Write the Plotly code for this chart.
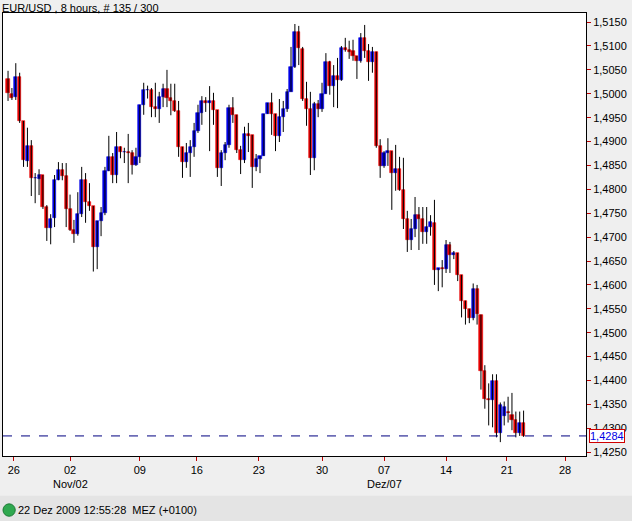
import plotly.graph_objects as go

# EUR/USD 8-hour candles
opens = [1.5031, 1.5000, 1.4994, 1.5035, 1.4943, 1.4859, 1.4891, 1.4824, 1.4821, 1.4830,
         1.4763, 1.4719, 1.4740, 1.4819, 1.4840, 1.4828, 1.4759, 1.4715, 1.4707, 1.4749,
         1.4820, 1.4774, 1.4765, 1.4679, 1.4734, 1.4750, 1.4838, 1.4868, 1.4830, 1.4889,
         1.4878, 1.4878, 1.4876, 1.4850, 1.4868, 1.4977, 1.5008, 1.5008, 1.4972, 1.4968,
         1.4993, 1.5010, 1.4991, 1.4985, 1.4964, 1.4889, 1.4857, 1.4876, 1.4889, 1.4922,
         1.4960, 1.4985, 1.4981, 1.4985, 1.4966, 1.4845, 1.4876, 1.4893, 1.4970, 1.4956,
         1.4882, 1.4861, 1.4916, 1.4914, 1.4847, 1.4863, 1.4870, 1.4958, 1.4981, 1.4958,
         1.4912, 1.4952, 1.4968, 1.5004, 1.5056, 1.5129, 1.5094, 1.4989, 1.4968, 1.4866,
         1.4979, 1.4968, 1.5000, 1.5067, 1.5016, 1.5037, 1.5029, 1.5096, 1.5092, 1.5090,
         1.5079, 1.5069, 1.5117, 1.5090, 1.5067, 1.5088, 1.4891, 1.4849, 1.4876, 1.4880,
         1.4834, 1.4843, 1.4799, 1.4738, 1.4694, 1.4717, 1.4746, 1.4738, 1.4711, 1.4721,
         1.4730, 1.4631, 1.4635, 1.4633, 1.4684, 1.4663, 1.4667, 1.4621, 1.4567, 1.4550,
         1.4531, 1.4592, 1.4538, 1.4419, 1.4362, 1.4360, 1.4398, 1.4291, 1.4326, 1.4335,
         1.4327, 1.4317, 1.4290, 1.4312]
highs = [1.5048, 1.5012, 1.5064, 1.5044, 1.4943, 1.4929, 1.4903, 1.4834, 1.4842, 1.4830,
         1.4767, 1.4748, 1.4830, 1.4857, 1.4855, 1.4855, 1.4789, 1.4736, 1.4794, 1.4847,
         1.4834, 1.4813, 1.4765, 1.4734, 1.4763, 1.4847, 1.4912, 1.4876, 1.4920, 1.4890,
         1.4887, 1.4916, 1.4882, 1.4887, 1.4977, 1.5023, 1.5017, 1.5012, 1.5023, 1.5004,
         1.5021, 1.5050, 1.5021, 1.5021, 1.4985, 1.4889, 1.4897, 1.4903, 1.4939, 1.4977,
         1.4995, 1.4993, 1.5016, 1.5002, 1.4966, 1.4882, 1.4899, 1.4977, 1.4993, 1.4956,
         1.4891, 1.4931, 1.4939, 1.4914, 1.4874, 1.4870, 1.4958, 1.4981, 1.5002, 1.4958,
         1.4989, 1.4985, 1.5010, 1.5098, 1.5146, 1.5142, 1.5098, 1.5025, 1.5004, 1.4983,
         1.4987, 1.5023, 1.5085, 1.5069, 1.5060, 1.5075, 1.5100, 1.5117, 1.5111, 1.5113,
         1.5079, 1.5127, 1.5144, 1.5104, 1.5098, 1.5088, 1.4905, 1.4880, 1.4907, 1.4880,
         1.4893, 1.4868, 1.4866, 1.4755, 1.4738, 1.4784, 1.4763, 1.4763, 1.4763, 1.4746,
         1.4778, 1.4635, 1.4652, 1.4694, 1.4690, 1.4671, 1.4667, 1.4621, 1.4567, 1.4550,
         1.4603, 1.4600, 1.4538, 1.4432, 1.4394, 1.4413, 1.4413, 1.4354, 1.4356, 1.4366,
         1.4374, 1.4335, 1.4335, 1.4337]
lows = [1.4985, 1.4987, 1.4987, 1.4939, 1.4847, 1.4847, 1.4786, 1.4771, 1.4788, 1.4759,
        1.4692, 1.4685, 1.4721, 1.4819, 1.4819, 1.4721, 1.4713, 1.4688, 1.4703, 1.4742,
        1.4730, 1.4755, 1.4628, 1.4633, 1.4702, 1.4746, 1.4838, 1.4813, 1.4813, 1.4865,
        1.4855, 1.4813, 1.4831, 1.4849, 1.4855, 1.4956, 1.4990, 1.4951, 1.4951, 1.4939,
        1.4972, 1.4972, 1.4955, 1.4962, 1.4868, 1.4824, 1.4845, 1.4826, 1.4868, 1.4918,
        1.4935, 1.4962, 1.4880, 1.4935, 1.4826, 1.4807, 1.4861, 1.4887, 1.4939, 1.4876,
        1.4832, 1.4855, 1.4878, 1.4803, 1.4838, 1.4834, 1.4870, 1.4958, 1.4914, 1.4880,
        1.4899, 1.4920, 1.4962, 1.5004, 1.5054, 1.5060, 1.4985, 1.4933, 1.4830, 1.4840,
        1.4951, 1.4962, 1.5000, 1.4998, 1.4972, 1.4970, 1.5027, 1.5088, 1.5073, 1.5069,
        1.5031, 1.5065, 1.5075, 1.5027, 1.5044, 1.4887, 1.4824, 1.4845, 1.4849, 1.4757,
        1.4797, 1.4797, 1.4717, 1.4669, 1.4673, 1.4700, 1.4673, 1.4686, 1.4686, 1.4703,
        1.4600, 1.4587, 1.4595, 1.4625, 1.4625, 1.4654, 1.4608, 1.4532, 1.4517, 1.4520,
        1.4526, 1.4517, 1.4381, 1.4341, 1.4306, 1.4302, 1.4281, 1.4271, 1.4306, 1.4312,
        1.4296, 1.4281, 1.4284, 1.4282]
closes = [1.5002, 1.4991, 1.5035, 1.4943, 1.4861, 1.4891, 1.4824, 1.4824, 1.4830, 1.4763,
          1.4719, 1.4738, 1.4819, 1.4840, 1.4828, 1.4759, 1.4715, 1.4707, 1.4749, 1.4820,
          1.4774, 1.4765, 1.4679, 1.4734, 1.4750, 1.4838, 1.4868, 1.4830, 1.4889, 1.4878,
          1.4878, 1.4876, 1.4850, 1.4868, 1.4977, 1.5008, 1.5008, 1.4972, 1.4968, 1.4993,
          1.5010, 1.4991, 1.4985, 1.4964, 1.4889, 1.4857, 1.4876, 1.4889, 1.4922, 1.4960,
          1.4985, 1.4981, 1.4985, 1.4966, 1.4845, 1.4876, 1.4893, 1.4970, 1.4956, 1.4882,
          1.4861, 1.4916, 1.4912, 1.4847, 1.4863, 1.4870, 1.4958, 1.4981, 1.4958, 1.4912,
          1.4952, 1.4968, 1.5004, 1.5056, 1.5129, 1.5096, 1.4989, 1.4968, 1.4866, 1.4979,
          1.4968, 1.5000, 1.5067, 1.5016, 1.5037, 1.5029, 1.5096, 1.5092, 1.5088, 1.5079,
          1.5069, 1.5117, 1.5090, 1.5067, 1.5088, 1.4891, 1.4849, 1.4876, 1.4880, 1.4834,
          1.4843, 1.4799, 1.4738, 1.4694, 1.4717, 1.4746, 1.4738, 1.4711, 1.4721, 1.4732,
          1.4631, 1.4635, 1.4633, 1.4684, 1.4663, 1.4667, 1.4621, 1.4567, 1.4550, 1.4531,
          1.4592, 1.4540, 1.4419, 1.4362, 1.4360, 1.4398, 1.4291, 1.4348, 1.4345, 1.4331,
          1.4317, 1.4290, 1.4312, 1.4284]

# x-axis labels at bar positions
tick_pos = [2.5, 17, 35, 49.7, 65.7, 82, 98, 114, 129.7, 144.7]
tick_text = ["26", "02", "09", "16", "23", "30", "07", "14", "21", "28"]
month_labels = [(17, "Nov/02"), (98, "Dez/07")]
last_price = 1.4284

bars = list(range(1, len(opens) + 1))
up = [c >= o for o, c in zip(opens, closes)]

wx, wy = [], []
for i, h, l in zip(bars, highs, lows):
    wx += [i, i, None]
    wy += [l, h, None]

fig = go.Figure()
fig.add_trace(go.Scatter(x=wx, y=wy, mode="lines", line=dict(color="black", width=1),
                         hoverinfo="skip", showlegend=False))
colors = ["#0000e6" if u else "#e60000" for u in up]
fig.add_trace(go.Bar(
    x=bars,
    base=[min(o, c) for o, c in zip(opens, closes)],
    y=[abs(c - o) for o, c in zip(opens, closes)],
    width=0.8,
    marker=dict(color=colors, line=dict(color=colors, width=0.6)),
    showlegend=False,
))

# dashed last-price line
fig.add_shape(type="line", xref="paper", x0=0, x1=1, y0=last_price, y1=last_price,
              line=dict(color="#000080", width=1, dash="dash"))

fig.add_annotation(xref="paper", x=1.005, y=last_price, xanchor="left", yanchor="middle",
                   text="1,4284", showarrow=False, bgcolor="white",
                   font=dict(color="#0000e6", size=11, family="Liberation Sans"),
                   bordercolor="#d00000", borderwidth=1, borderpad=0)

for pos, txt in month_labels:
    fig.add_annotation(x=pos, yref="paper", y=-0.045, text=txt, showarrow=False,
                       yanchor="top", font=dict(size=11, family="Liberation Sans", color="black"))

fig.add_annotation(xref="paper", yref="paper", x=-0.005, y=1.03, xanchor="left", yanchor="top",
                   text="EUR/USD , 8 hours, # 135 / 300", showarrow=False,
                   font=dict(size=11, family="Liberation Sans", color="black"))

# status bar
fig.add_shape(type="rect", xref="paper", yref="paper", x0=-0.01, x1=1.1, y0=-0.09, y1=-0.16,
              fillcolor="#e4e4e4", line=dict(width=0), layer="below")
fig.add_shape(type="circle", xref="paper", yref="paper", x0=0.0, x1=0.021, y0=-0.108, y1=-0.136,
              fillcolor="#2fa84f", line=dict(color="#1a7a34", width=1))
fig.add_annotation(xref="paper", yref="paper", x=0.022, y=-0.122, xanchor="left", yanchor="middle",
                   text="22 Dez 2009 12:55:28  MEZ (+0100)", showarrow=False,
                   font=dict(size=11, family="Liberation Sans", color="black"))

fig.update_layout(
    width=632, height=521,
    margin=dict(l=3, r=46, t=13, b=65),
    paper_bgcolor="#efefef", plot_bgcolor="white",
    separators=",.",
    bargap=0,
    font=dict(family="Liberation Sans", size=11, color="black"),
    xaxis=dict(range=[-0.3, 150.1], tickvals=tick_pos, ticktext=tick_text,
               showgrid=False, zeroline=False, ticks="outside", ticklen=4, tickcolor="#c00000",
               showline=True, linecolor="black", mirror=True),
    yaxis=dict(range=[1.4242, 1.5169], side="right", dtick=0.005, tickformat=".4f",
               showgrid=False, zeroline=False, ticks="outside", ticklen=4, tickcolor="#c00000",
               showline=True, linecolor="black", mirror=True),
)

fig.write_html("out.html", config={"displayModeBar": False},
               post_script="document.body.style.margin='0';document.body.style.overflow='hidden';")
